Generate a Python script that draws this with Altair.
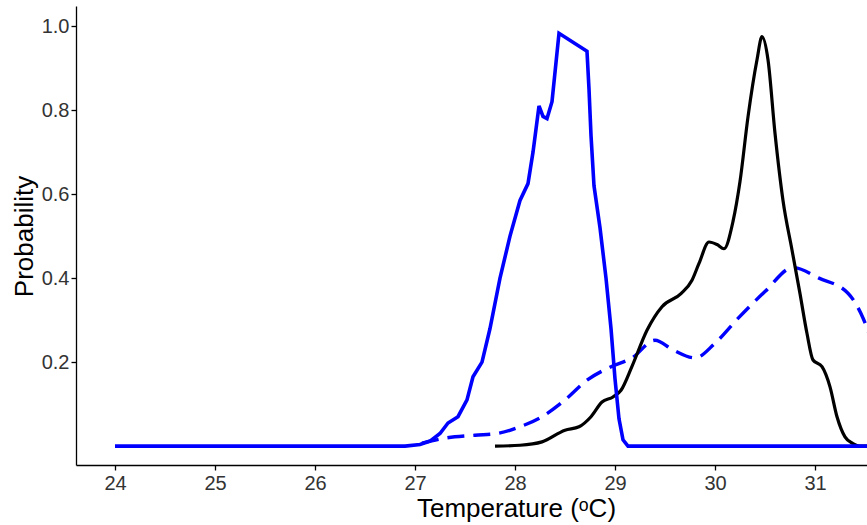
import altair as alt
import pandas as pd

# Blue solid curve
solid_t = [24.0, 26.9, 27.05, 27.15, 27.25, 27.33, 27.43, 27.52, 27.58, 27.67, 27.75, 27.85,
           27.95, 28.05, 28.13, 28.18, 28.24, 28.28, 28.32, 28.37, 28.44, 28.72, 28.74, 28.76,
           28.79, 28.85, 28.91, 28.96, 29.0, 29.04, 29.08, 29.13, 32.5]
solid_p = [0.0, 0.0, 0.004, 0.012, 0.03, 0.055, 0.07, 0.11, 0.165, 0.20, 0.28, 0.40,
           0.50, 0.585, 0.625, 0.70, 0.81, 0.785, 0.78, 0.82, 0.983, 0.94, 0.85, 0.74,
           0.62, 0.52, 0.40, 0.28, 0.16, 0.065, 0.015, 0.0, 0.0]

# Black curve
black_t = [27.8, 28.05, 28.27, 28.5, 28.64, 28.76, 28.87, 28.98, 29.06, 29.17, 29.32, 29.47,
           29.66, 29.77, 29.84, 29.94, 30.02, 30.09, 30.18, 30.25, 30.33, 30.42, 30.47, 30.53,
           30.6, 30.68, 30.77, 30.85, 30.92, 30.98, 31.07, 31.15, 31.22, 31.3, 31.38, 31.45, 32.5]
black_p = [0.0, 0.002, 0.01, 0.038, 0.046, 0.07, 0.105, 0.117, 0.133, 0.19, 0.276, 0.332,
           0.363, 0.395, 0.435, 0.486, 0.48, 0.47, 0.535, 0.63, 0.784, 0.92, 0.975, 0.92,
           0.745, 0.585, 0.467, 0.363, 0.268, 0.205, 0.189, 0.141, 0.07, 0.022, 0.006, 0.0, 0.0]

# Blue dashed curve
dash_t = [27.07, 27.3, 27.6, 27.82, 28.05, 28.27, 28.5, 28.72, 28.95, 29.17, 29.4, 29.58,
          29.8, 30.0, 30.23, 30.5, 30.78, 31.04, 31.33, 31.48, 31.58]
dash_p = [0.007, 0.019, 0.026, 0.03, 0.046, 0.07, 0.11, 0.157, 0.188, 0.21, 0.252, 0.229,
          0.21, 0.245, 0.304, 0.368, 0.425, 0.4, 0.364, 0.305, 0.24]

y_ticks = [0.2, 0.4, 0.6, 0.8, 1.0]
x_ticks = [24, 25, 26, 27, 28, 29, 30, 31, 32]

solid_df = pd.DataFrame({"t": solid_t, "p": solid_p})
black_df = pd.DataFrame({"t": black_t, "p": black_p})
dash_df = pd.DataFrame({"t": dash_t, "p": dash_p})

FONT = "Liberation Sans"

x_enc = alt.X(
    "t:Q",
    scale=alt.Scale(domain=[23.61, 31.52], nice=False, zero=False),
    axis=alt.Axis(
        values=x_ticks, format="d", title="Temperature (ᵒC)",
        grid=False, domainColor="black", domainWidth=1.3, tickColor="black",
        tickWidth=1.3, tickSize=5, labelPadding=3, labelFont=FONT, labelFontSize=20,
        labelColor="#333333", titleFont=FONT, titleFontSize=26, titleFontWeight="normal",
        titleColor="black", titleX=440, titleY=51, titleBaseline="alphabetic",
        titleAlign="center",
    ),
)
y_enc = alt.Y(
    "p:Q",
    scale=alt.Scale(domain=[-0.045, 1.048], nice=False, zero=False),
    axis=alt.Axis(
        values=y_ticks, format=".1f", title="Probability",
        grid=False, domainColor="black", domainWidth=1.3, tickColor="black",
        tickWidth=1.3, tickSize=5, labelPadding=2, labelFont=FONT, labelFontSize=20,
        labelColor="#333333", titleFont=FONT, titleFontSize=26, titleFontWeight="normal",
        titleColor="black", titleX=-44, titleY=230, titleBaseline="alphabetic",
        titleAlign="center", titleAngle=270,
    ),
)

dashed = alt.Chart(dash_df).mark_line(
    color="#0000FF", strokeWidth=3.4, strokeDash=[17, 9], interpolate="monotone", clip=True
).encode(x=x_enc, y=y_enc)

black = alt.Chart(black_df).mark_line(
    color="black", strokeWidth=3.2, interpolate="monotone", clip=True
).encode(x=x_enc, y=y_enc)

solid = alt.Chart(solid_df).mark_line(
    color="#0000FF", strokeWidth=3.6, interpolate="linear", clip=True
).encode(x=x_enc, y=y_enc)

chart = alt.layer(dashed, black, solid).properties(
    width=791,
    height=459,
    padding={"left": 76, "top": 6, "right": 0, "bottom": 60},
    autosize=alt.AutoSizeParams(type="none"),
    view=alt.ViewBackground(stroke="white", strokeWidth=0, strokeOpacity=0),
).configure_view(stroke="white", strokeWidth=0, strokeOpacity=0).configure(background="white")

chart.save("out.html", embed_options={"renderer": "svg", "actions": False})
